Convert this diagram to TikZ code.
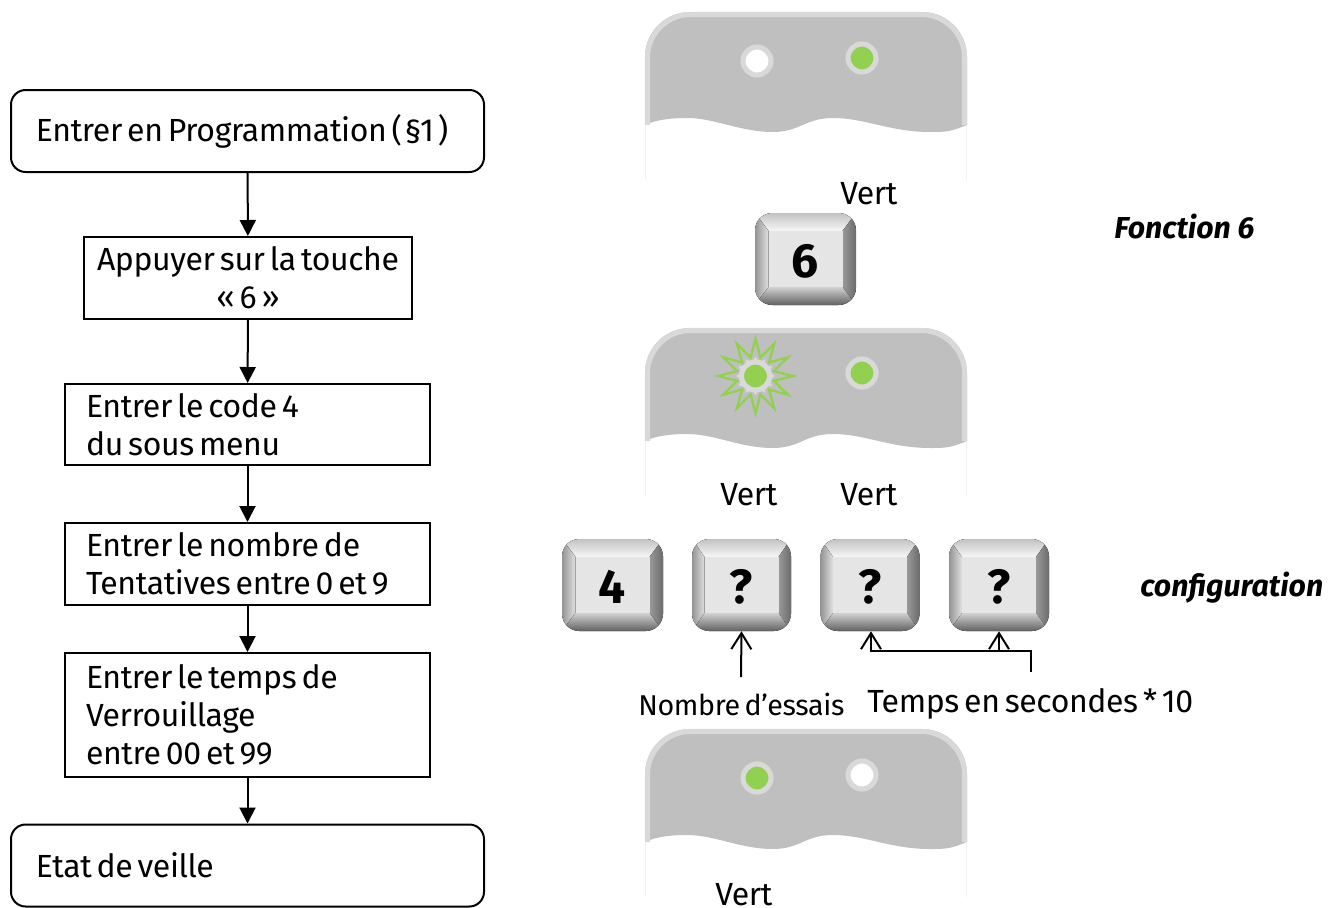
\documentclass[tikz,border=0pt]{standalone}
\usepackage{fontspec}
\setmainfont[LetterSpace=-1.2,WordSpace=0.6]{Fira Sans}
\newfontfamily\sidefont{Fira Sans}
\usetikzlibrary{arrows.meta,shapes.geometric}
\definecolor{panelgray}{HTML}{BFBFBF}
\definecolor{panelrim}{HTML}{D9D9D9}
\definecolor{ledgreen}{HTML}{92D050}
\newcommand{\txt}{\fontsize{24}{28.5}\selectfont}
\newcommand{\txts}{\fontsize{21.5}{26}\selectfont}
\newcommand{\keyfont}{\fontsize{36}{40}\selectfont\sidefont\bfseries}
\newcommand{\keytext}[1]{\raisebox{-14pt}[0pt][0pt]{#1}}
\newcommand{\panelshape}[1]{%
  \begin{scope}[shift={(0,#1)}]
    \fill[panelgray] (645,113) -- (645,45) .. controls (645,20) and (665,0) .. (690,0) -- (922,0)
      .. controls (947,0) and (967,20) .. (967,45) -- (967,113)
      .. controls (950,120) and (945,120) .. (930,120)
      .. controls (890,120) and (865,106) .. (833,106)
      .. controls (805,106) and (800,120) .. (773,120)
      .. controls (740,120) and (715,106) .. (687,106)
      .. controls (670,106) and (655,108) .. (645,113) -- cycle;
    \draw[panelrim,line width=3.8pt] (647.5,113) -- (647.5,45) .. controls (647.5,22) and (667,2.5) .. (690,2.5) -- (922,2.5)
      .. controls (945,2.5) and (964.5,22) .. (964.5,45) -- (964.5,113);
    \draw[black!5,line width=.6pt] (645.5,114) -- (645.5,168);
    \draw[black!5,line width=.6pt] (966.5,114) -- (966.5,168);
  \end{scope}}
% bevel of a key: centre x, centre y, half width, half height
\newcommand{\keybevel}[4]{%
  \begin{scope}[shift={(#1,#2)}]
    \clip[rounded corners=13pt] (-#3,-#4) rectangle (#3,#4);
    \fill[black!45] (-#3,-#4) rectangle (#3,#4);
    \fill[top color=black!24,bottom color=black!3] (-#3,-#4) -- (#3,-#4) -- (37,-28) -- (-37,-28) -- cycle;
    \fill[left color=black!42,right color=black!12] (-#3,-#4) -- (-37,-28) -- (-37,28) -- (-#3,#4) -- cycle;
    \fill[left color=black!40,right color=black!58] (#3,-#4) -- (37,-28) -- (37,28) -- (#3,#4) -- cycle;
    \fill[top color=black!18,bottom color=black!62] (-#3,#4) -- (-37,28) -- (37,28) -- (#3,#4) -- cycle;
    \fill[black!10] (-37,-28) rectangle (37,28);
  \end{scope}}
\tikzset{
  x=0.75pt,y=-0.75pt,
  box/.style 2 args={draw=black,line width=1.5pt,minimum width=#1*0.75pt,minimum height=#2*0.75pt,
    inner xsep=0pt,inner ysep=0pt,font=\txt},
  startbox/.style={box={473}{82},rounded corners=11pt,text width=423*0.75pt,align=flush left},
  stepbox/.style 2 args={box={#1}{#2},text width=(#1-42)*0.75pt,align=flush left},
  link/.style={draw=black,line width=1.5pt,-{Triangle[length=12pt,width=12pt]}},
  barb/.style={draw=black,line width=1.5pt,-{Straight Barb[length=12pt,width=15pt,line width=1.5pt]}},
  led/.style={circle,draw=panelrim,line width=3.8pt,fill=#1,minimum size=28*0.75pt,inner sep=0pt},
  label/.style={font=\txt,inner sep=0pt,anchor=base west},
  side/.style={font=\fontsize{22.7}{28}\selectfont\sidefont\bfseries\itshape,inner sep=0pt,anchor=base west},
  keycap/.style 2 args={minimum width=#1*0.75pt,minimum height=#2*0.75pt,inner sep=0pt,font=\keyfont},
}
\begin{document}
\begin{tikzpicture}
\useasboundingbox (0,0) rectangle (1341,907);
% flow chart
\node[box={473}{82},startbox] (prog) at (247.5,131) {Entrer en Programmation (\kern2pt§1\kern3pt)};
\node[stepbox={328}{82},align=flush center,text width=320*0.75pt] (touche) at (248,278) {Appuyer sur la touche\\« 6 »};
\node[stepbox={365}{81}] (code) at (247.5,424.5) {Entrer le code 4\\du sous menu};
\node[stepbox={365}{82}] (tent) at (247.5,564) {Entrer le nombre de\\Tentatives entre 0 et 9};
\node[stepbox={365}{124}] (temps) at (247.5,715) {Entrer le temps de\\Verrouillage\\entre 00 et 99};
\node[box={473}{81},startbox] (veille) at (247.5,865.5) {Etat de veille};
\draw[link] (prog) -- (touche);
\draw[link] (touche) -- (code);
\draw[link] (code) -- (tent);
\draw[link] (tent) -- (temps);
\draw[link] (temps) -- (veille);
% panels
\panelshape{12}
\node[led=white] (a1) at (757,61) {};
\node[led=ledgreen] (a2) at (862,58) {};
\panelshape{328}
\fill[panelrim] ([shift={(755.5,376)}]90:19.5)
  \foreach \i in {1,...,11} { -- ([shift={(755.5,376)}]75+\i*30:14) -- ([shift={(755.5,376)}]90+\i*30:19.5) }
  -- ([shift={(755.5,376)}]75:14) -- cycle;
\node[led=ledgreen] (b1) at (755.5,376) {};
\draw[ledgreen,line width=1.7pt,line join=miter,miter limit=10] ([shift={(755.5,376)}]90:37.5)
  \foreach \i in {1,...,11} { -- ([shift={(755.5,376)}]75+\i*30:19) -- ([shift={(755.5,376)}]90+\i*30:37.5) }
  -- ([shift={(755.5,376)}]75:19) -- cycle;
\node[led=ledgreen] (b2) at (862,373) {};
\panelshape{729}
\node[led=ledgreen] (c1) at (757,778) {};
\node[led=white] (c2) at (862,775) {};
% keys
\keybevel{805.5}{259}{50.5}{46}
\keybevel{612.5}{585}{50.5}{46}
\keybevel{741.5}{585}{49.5}{46}
\keybevel{870}{585}{49.5}{46}
\keybevel{999}{585}{50}{46}
\node[keycap={101}{92}] (k6) at (805.5,259) {\keytext{6}};
\node[keycap={101}{92}] (k4) at (612.5,585) {\keytext{4}};
\node[keycap={99}{92}] (q1) at (741.5,585) {\keytext{?}};
\node[keycap={99}{92}] (q2) at (870,585) {\keytext{?}};
\node[keycap={100}{92}] (q3) at (999,585) {\keytext{?}};
% labels
\node[label] (v1) at (840,204) {Vert};
\node[label] (v2) at (720,505) {Vert};
\node[label] (v3) at (840,505) {Vert};
\node[label] (v4) at (715,905) {Vert};
\node[side] (f6) at (1114,238) {Fonction 6};
\node[side] (conf) at (1140,596) {configuration};
\node[label,font=\txts] (essais) at (638,715) {Nombre d’essais};
\node[label] (sec) at (867,712) {Temps en secondes * 10};
% connectors
\coordinate (e0) at (741,677);
\coordinate (s0) at (1031,672);
\coordinate (s1) at (1031,651);
\coordinate (s2) at (871,651);
\coordinate (s3) at (999,651);
\draw[barb] (e0) -- (q1.south);
\draw[barb] (s0) -- (s1) -- (s2) -- (q2.south -| s2);
\draw[barb] (s3) -- (q3.south -| s3);
\end{tikzpicture}
\end{document}
